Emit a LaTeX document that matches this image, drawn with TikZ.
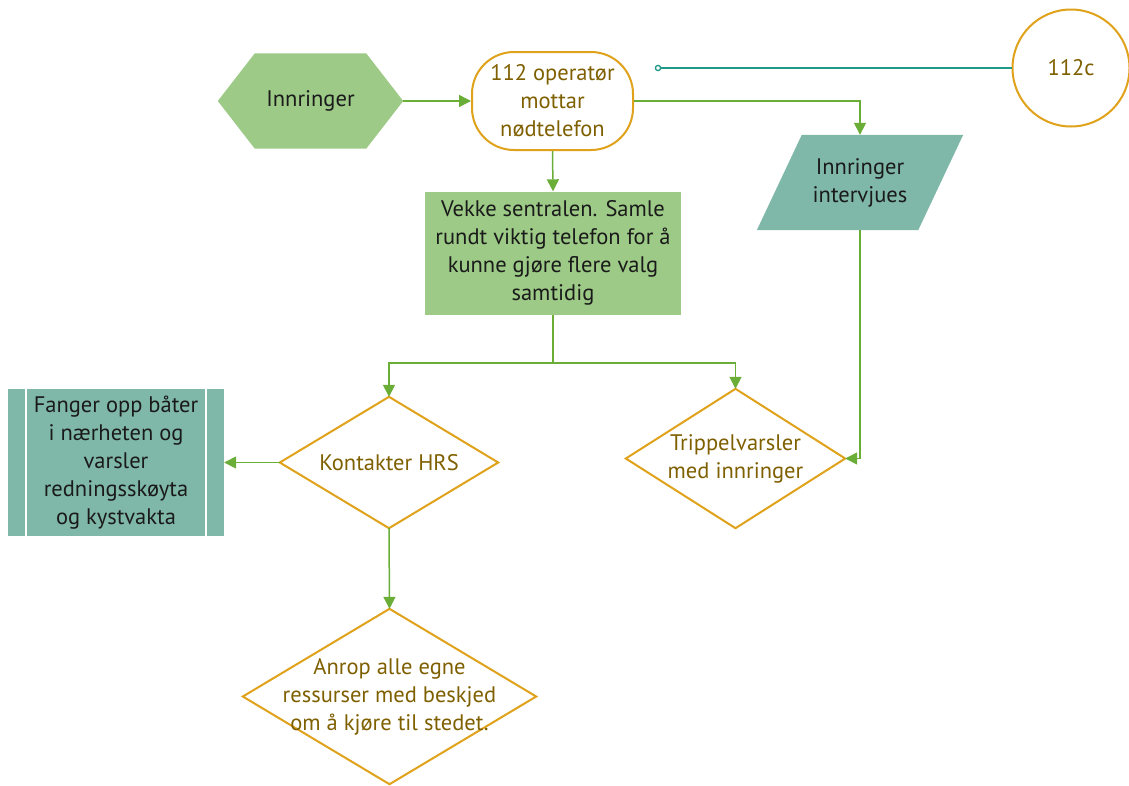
\documentclass[tikz,border=0pt]{standalone}
\usepackage{fontspec}
\setmainfont{PT Sans}
\usetikzlibrary{arrows.meta,backgrounds}
\definecolor{leaf}{HTML}{9DCB87}
\definecolor{sea}{HTML}{7FB8A9}
\definecolor{amber}{HTML}{DFA21A}
\definecolor{bark}{HTML}{7F6000}
\definecolor{link}{HTML}{6AAE38}
\definecolor{wire}{HTML}{1E9A86}
\definecolor{ink}{HTML}{1A1A1A}
\begin{document}
\begin{tikzpicture}[x=1pt,y=-1pt,
  every node/.style={font=\fontsize{22.5}{28}\selectfont, align=center, inner sep=0pt},
  frame/.style 2 args={minimum width=#1, minimum height=#2, draw=none},
  outline/.style={draw=amber, line width=2pt, fill=white},
  flow/.style={draw=link, line width=1.5pt, -{Triangle[length=12pt,width=12pt]}},
  teal line/.style={draw=wire, line width=2pt}]
\useasboundingbox (0,0) rectangle (1129,785);

% shape frames with their texts
\node[frame={185pt}{95pt}, text=ink] (ring) at (310.5,101) {Innringer};
\node[outline, rounded corners=42pt, minimum width=161pt, minimum height=98pt, text=bark]
  (op) at (552.5,101) {112 operatør\\mottar\\nødtelefon};
\node[outline, circle, minimum size=117pt, text=bark] (code) at (1071,68) {112c};
\node[frame={206pt}{95pt}, text=ink] (ask) at (860,182.5) {Innringer\\intervjues};
\node[fill=leaf, minimum width=256pt, minimum height=123pt, text=ink]
  (wake) at (553,253) {Vekke sentralen. Samle\\rundt viktig telefon for å\\kunne gjøre flere valg\\samtidig};
\node[frame={218pt}{131pt}, text=bark] (hrs) at (389,462.5) {Kontakter HRS};
\node[frame={219pt}{139pt}, text=bark] (trip) at (735.5,458.5) {Trippelvarsler\\med innringer};
\node[frame={293pt}{175pt}, text=bark] (call) at (389.5,696.5) {Anrop alle egne\\ressurser med beskjed\\om å kjøre til stedet.};
\node[fill=sea, minimum width=216pt, minimum height=147pt, text=ink]
  (boats) at (116,462.5) {Fanger opp båter\\i nærheten og\\varsler\\redningsskøyta\\og kystvakta};

% outlines behind the texts
\begin{pgfonlayer}{background}
  \fill[leaf] (ring.west) -- ([xshift=37pt]ring.north west) -- ([xshift=-37pt]ring.north east)
    -- (ring.east) -- ([xshift=-37pt]ring.south east) -- ([xshift=37pt]ring.south west) -- cycle;
  \fill[sea] ([xshift=45pt]ask.north west) -- (ask.north east)
    -- ([xshift=-45pt]ask.south east) -- (ask.south west) -- cycle;
  \path[outline] (hrs.west) -- (hrs.north) -- (hrs.east) -- (hrs.south) -- cycle;
  \path[outline] (trip.west) -- (trip.north) -- (trip.east) -- (trip.south) -- cycle;
  \path[outline] (call.west) -- (call.north) -- (call.east) -- (call.south) -- cycle;
\end{pgfonlayer}
\draw[white, line width=2pt] ([xshift=18pt]boats.north west) -- ([xshift=18pt]boats.south west);
\draw[white, line width=2pt] ([xshift=-18pt]boats.north east) -- ([xshift=-18pt]boats.south east);

% connectors
\coordinate (tap) at (658,68);
\coordinate (split) at (553,363);
\draw[teal line] (tap) -- (code.west);
\draw[draw=wire, fill=white, line width=1.3pt] (tap) circle (2.6pt);
\draw[flow] (ring.east) -- (op.west);
\draw[flow] (op.east) -| (ask.north);
\draw[flow] (op.south) -- (wake.north);
\draw[flow] (wake.south) -- (split) -| (hrs.north);
\draw[flow] (split) -| (trip.north);
\draw[flow] (ask.south) |- (trip.east);
\draw[flow] (hrs.west) -- (boats.east);
\draw[flow] (hrs.south) -- (call.north);
\end{tikzpicture}
\end{document}
